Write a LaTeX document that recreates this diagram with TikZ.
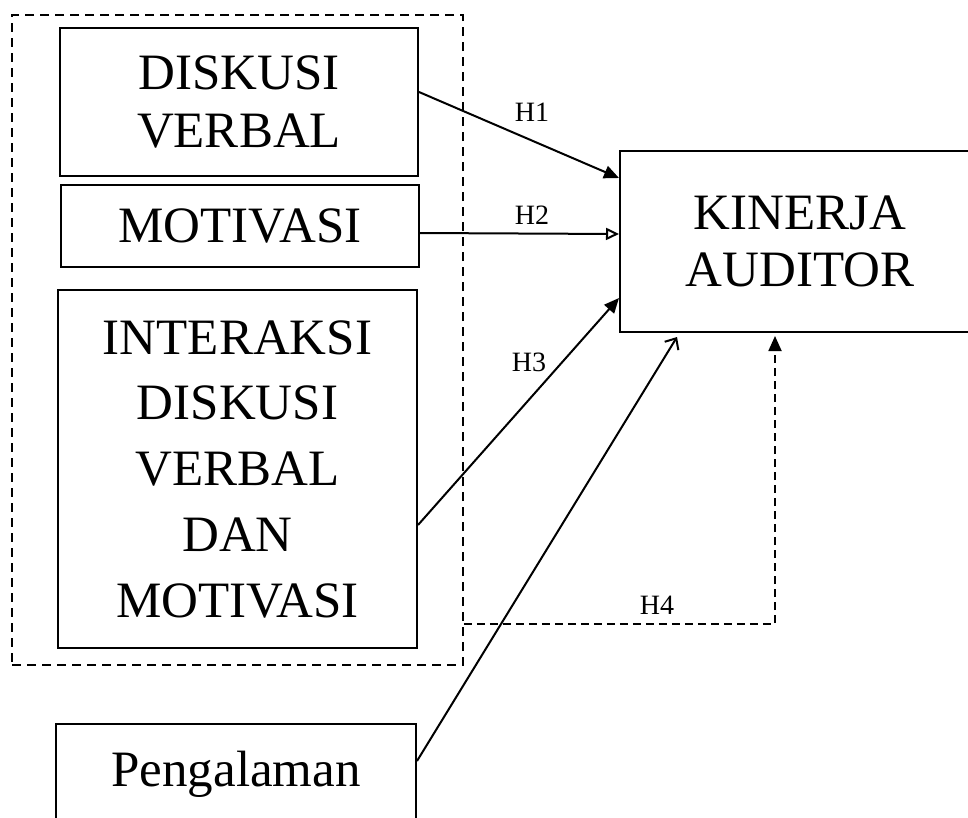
\documentclass[tikz,border=0pt]{standalone}
\usepackage{fontspec}
\setmainfont{Liberation Serif}
\usetikzlibrary{arrows.meta}
\begin{document}
\begin{tikzpicture}[x={(1pt,0)},y={(0,-1pt)},
  boxnode/.style={draw, line width=2pt, align=center, inner sep=0pt, font=\fontsize{51}{58}\selectfont},
  grpbox/.style={draw, line width=1.8pt, dash pattern=on 9pt off 6pt, inner sep=0pt},
  conn/.style={line width=2pt},
  hlabel/.style={inner sep=0pt, font=\fontsize{28}{30}\selectfont},
  filledtip/.style={-{Triangle[length=15pt,width=13pt]}},
  opentip/.style={-{Triangle[open,length=13pt,width=12pt,line width=2pt]}},
  bartip/.style={-{Straight Barb[length=9pt,width=16pt,line width=2pt]}}]
\useasboundingbox (0,0) rectangle (968,817);
\clip (0,0) rectangle (968,817);
\fill[white] (0,0) rectangle (968,817);
% group box
\node[grpbox, minimum width=451pt, minimum height=650pt] (grp) at (237.5,340) {};
% left boxes
\node[boxnode, minimum width=358pt, minimum height=148pt] (b1) at (239,102) {DISKUSI\\VERBAL};
\node[boxnode, minimum width=358pt, minimum height=82pt] (b2) at (240,226) {MOTIVASI};
\node[boxnode, minimum width=359pt, minimum height=358pt, font=\fontsize{51}{65.75}\selectfont] (b3) at (237.5,469) {INTERAKSI\\DISKUSI\\VERBAL\\DAN\\MOTIVASI};
% target
\node[boxnode, minimum width=360pt, minimum height=181pt, font=\fontsize{51}{57}\selectfont] (k) at (800,241.5) {KINERJA\\AUDITOR};
% pengalaman
\node[boxnode, anchor=north west, minimum width=360pt, text height=62pt, text depth=88pt] (p) at (55,723) {Pengalaman};
% connectors
\draw[conn, filledtip] ([yshift=10pt]b1.east) -- ([yshift=63.5pt]k.west);
\draw[conn, opentip] ([yshift=-7pt]b2.east) -- ([yshift=7.5pt]k.west);
\draw[conn, filledtip] ([yshift=-56pt]b3.east) -- ([yshift=-56.5pt]k.west);
\draw[conn, bartip] ([yshift=38pt]p.east) -- ([xshift=-123pt,yshift=-4pt]k.south);
\coordinate (h4s) at ([yshift=-284pt]grp.east);
\coordinate (h4e) at ([xshift=-25pt,yshift=-3pt]k.south);
\draw[conn, line width=1.8pt, dash pattern=on 8pt off 5pt, filledtip] (h4s) -- (h4s -| h4e) -- (h4e);
% labels
\node[hlabel] (l1) at (532,112) {H1};
\node[hlabel] (l2) at (532,215) {H2};
\node[hlabel] (l3) at (529,362) {H3};
\node[hlabel] (l4) at (657,605) {H4};
\end{tikzpicture}
\end{document}
